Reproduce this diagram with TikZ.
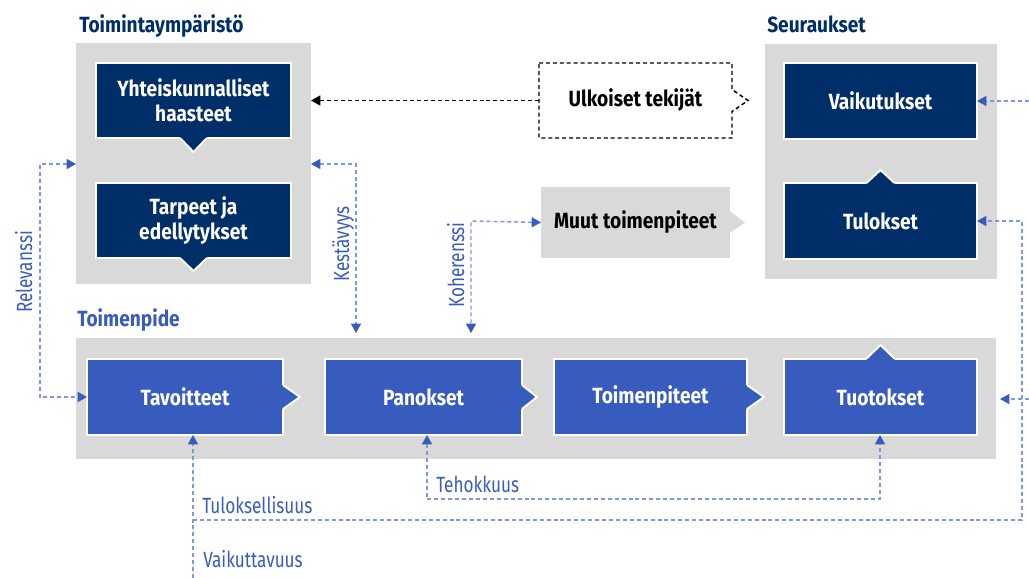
\documentclass[tikz,border=0pt]{standalone}
\usepackage{fontspec}
\setmainfont{Fira Sans}[FakeStretch=0.78]
\newfontfamily\bfam{Fira Sans}[FakeStretch=0.87]
\usetikzlibrary{calc,arrows.meta}
\definecolor{navy}{RGB}{0,46,104}
\definecolor{mblue}{RGB}{56,91,190}
\definecolor{lline}{RGB}{128,152,216}
\definecolor{bgray}{RGB}{217,217,217}
\tikzset{
  every node/.style={font=\fontsize{16.5}{19}\selectfont},
  gbox/.style={fill=bgray, draw=none, inner sep=0pt, outer sep=0pt},
  nbox/.style={fill=navy, draw=white, line width=1.5pt, text=white,
    font=\bfam\bfseries\fontsize{16.5}{19}\selectfont, align=center, inner sep=0pt, outer sep=0pt},
  bbox/.style={nbox, fill=mblue},
  plainbox/.style={draw=none, text=black, font=\bfam\bfseries\fontsize{16.5}{19}\selectfont,
    align=center, inner sep=0pt, outer sep=0pt},
  title/.style={inner sep=0pt, font=\bfam\bfseries\fontsize{16.5}{19}\selectfont},
  lbl/.style={inner sep=0pt, text=mblue, font=\fontsize{16.5}{19}\selectfont},
  conn/.style={draw=lline, dash pattern=on 3pt off 2.2pt, line width=1.1pt,
    >={Triangle[length=7pt,width=7.5pt,color=mblue]}},
  extconn/.style={draw=black, dash pattern=on 3pt off 2.2pt, line width=1.1pt,
    >={Triangle[length=7pt,width=7.5pt,color=black]}},
  wedge/.style={white, line width=1.5pt}
}
\newcommand\ptrR[4]{%
  \fill[#2] ($(#1.east)+(-3,-#3)$) -- ($(#1.east)+(0,-#3)$) -- ($(#1.east)+(#4,0)$) -- ($(#1.east)+(0,#3)$) -- ($(#1.east)+(-3,#3)$) -- cycle;
  \draw[wedge] ($(#1.east)+(0,-#3)$) -- ($(#1.east)+(#4,0)$) -- ($(#1.east)+(0,#3)$);}
\newcommand\ptrD[4]{%
  \fill[#2] ($(#1.south)+(-#3,-3)$) -- ($(#1.south)+(-#3,0)$) -- ($(#1.south)+(0,#4)$) -- ($(#1.south)+(#3,0)$) -- ($(#1.south)+(#3,-3)$) -- cycle;
  \draw[wedge] ($(#1.south)+(-#3,0)$) -- ($(#1.south)+(0,#4)$) -- ($(#1.south)+(#3,0)$);}
\newcommand\ptrU[4]{%
  \fill[#2] ($(#1.north)+(-#3,3)$) -- ($(#1.north)+(-#3,0)$) -- ($(#1.north)+(0,-#4)$) -- ($(#1.north)+(#3,0)$) -- ($(#1.north)+(#3,3)$) -- cycle;
  \draw[wedge] ($(#1.north)+(-#3,0)$) -- ($(#1.north)+(0,-#4)$) -- ($(#1.north)+(#3,0)$);}
\begin{document}
\begin{tikzpicture}[x=0.75pt,y=-0.75pt]
\useasboundingbox (0,0) rectangle (1029,578);
% containers
\node[gbox,minimum width=176.25pt,minimum height=180.75pt] (env) at (193.5,163.5) {};
\node[gbox,minimum width=174pt,minimum height=176.25pt] (seur) at (881,161.5) {};
\node[gbox,minimum width=690pt,minimum height=90.75pt] (act) at (536,398.5) {};
% titles
\node[title,text=navy,anchor=base west] (tenv) at (79,32) {Toimintaympäristö};
\node[title,text=navy,anchor=base west] (tseur) at (767,32) {Seuraukset};
\node[title,text=mblue,anchor=base west] (tact) at (77,326) {Toimenpide};
% environment boxes
\node[nbox,minimum width=146.25pt,minimum height=56.25pt] (yht) at (193.5,100.5) {Yhteiskunnalliset\\haasteet};
\ptrD{yht}{navy}{13.5}{14}
\node[nbox,minimum width=146.25pt,minimum height=56.25pt] (tar) at (193.5,220.5) {Tarpeet ja\\edellytykset};
\ptrD{tar}{navy}{13.5}{13}
% consequences
\node[nbox,minimum width=144.75pt,minimum height=57pt] (vai) at (880.5,101) {Vaikutukset};
\node[nbox,minimum width=144.75pt,minimum height=57pt] (tul) at (880.5,221) {Tulokset};
\ptrU{tul}{navy}{14}{13}
% external
\node[plainbox,minimum width=144.75pt,minimum height=56.25pt] (ulk) at (635.5,100.5) {Ulkoiset tekijät};
\draw[extconn] (ulk.north west) -- (ulk.north east) -- ($(ulk.east)+(0,-11)$) -- ($(ulk.east)+(16,0)$) -- ($(ulk.east)+(0,11)$) -- (ulk.south east) -- (ulk.south west) -- cycle;
\node[plainbox,fill=bgray,minimum width=141.75pt,minimum height=53.25pt] (muu) at (635.5,222.5) {Muut toimenpiteet};
\fill[bgray] ($(muu.east)+(-1,-12)$) -- ($(muu.east)+(15,0)$) -- ($(muu.east)+(-1,11)$) -- cycle;
% action chain
\node[bbox,minimum width=147pt,minimum height=57pt] (tav) at (185,397) {Tavoitteet};
\ptrR{tav}{mblue}{12}{17}
\node[bbox,minimum width=147.75pt,minimum height=57pt] (pan) at (423.5,397) {Panokset};
\ptrR{pan}{mblue}{12}{15}
\node[bbox,minimum width=144.75pt,minimum height=57pt] (toi) at (650.5,397) {Toimenpiteet};
\ptrR{toi}{mblue}{12}{17}
\node[bbox,minimum width=144.75pt,minimum height=57pt] (tuo) at (880.5,397) {Tuotokset};
\ptrU{tuo}{mblue}{14.5}{14}
% coordinates
\coordinate (r1) at (40,164);
\coordinate (r2) at (40,397);
\coordinate (k1) at (356,164);
\coordinate (h1) at (471,221);
\coordinate (e1) at (1029,101);
\coordinate (e2) at (1029,399);
\coordinate (q1) at (1022,221);
\coordinate (q2) at (1022,520);
\coordinate (v0) at (193,578);
\coordinate (v1) at (193,520);
\coordinate (t1) at (427,499);
\coordinate (t2) at (880,499);
% connectors
\draw[extconn,->] (ulk.west) -- (ulk.west -| env.east);
\draw[conn,<->] (r1 -| env.west) -- (r1) -- (r2) -- (tav.west);
\draw[conn,<->,shorten >=3.75pt] (k1 -| env.east) -- (k1) -- (k1 |- act.north);
\draw[conn,<->,shorten >=3.75pt] (muu.west) -- (h1) -- (h1 |- act.north);
\draw[conn,->] (e1) -- (vai.east);
\draw[conn,->,shorten >=3pt] (e2) -- (act.east |- e2);
\draw[conn,->] (v0) -- (v0 |- tav.south);
\draw[conn,->] (v1) -- (q2) -- (q1) -- (tul.east);
\draw[conn,<->] (t1 |- pan.south) -- (t1) -- (t2) -- (t2 |- tuo.south);
% labels
\node[lbl,rotate=90,anchor=base] (lrel) at (32,272) {Relevanssi};
\node[lbl,rotate=90,anchor=base] (lkes) at (349,244) {Kestävyys};
\node[lbl,rotate=90,anchor=base] (lkoh) at (464,265) {Koherenssi};
\node[lbl,anchor=base west] (ltul) at (202,513) {Tuloksellisuus};
\node[lbl,anchor=base west] (lvai) at (203,567) {Vaikuttavuus};
\node[lbl,anchor=base west] (lteh) at (436,492) {Tehokkuus};
\end{tikzpicture}
\end{document}
